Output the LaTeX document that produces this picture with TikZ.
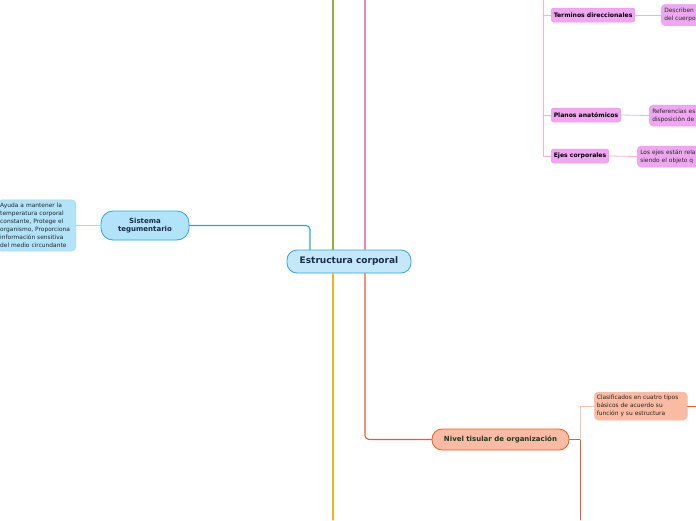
\documentclass[tikz,border=0pt]{standalone}
\usepackage{fontspec}
\setmainfont{DejaVu Sans}
\usepackage{xcolor}
\definecolor{mmblue}{HTML}{2BA6DF}
\definecolor{mmbluefill}{HTML}{C4E8FA}
\definecolor{mmbluenote}{HTML}{B3E3F9}
\definecolor{mmbluelight}{HTML}{9FD8F3}
\definecolor{mmnavy}{HTML}{1B2B48}
\definecolor{mmgreen}{HTML}{8CB43A}
\definecolor{mmpink}{HTML}{F283B6}
\definecolor{mmpinklight}{HTML}{F5B3D1}
\definecolor{mmviolet}{HTML}{EFA7F1}
\definecolor{mmvioletdraw}{HTML}{E79BEA}
\definecolor{mmyellow}{HTML}{F4B223}
\definecolor{mmred}{HTML}{F05A28}
\definecolor{mmsalmon}{HTML}{F9BBA3}
\definecolor{mmsalmonlight}{HTML}{F8C2AE}
\definecolor{mmdkgreen}{HTML}{1C3A26}
\usepackage{tikz}
\usetikzlibrary{positioning}
\tikzset{
  every picture/.style={line cap=round, line join=round},
  rootnode/.style={draw=mmblue, fill=mmbluefill, line width=0.8pt, rounded corners=10pt,
    font=\bfseries\fontsize{9}{10}\selectfont, text=mmnavy, minimum width=124pt, minimum height=23pt},
  topic/.style={line width=0.8pt, rounded corners=12pt, font=\bfseries\fontsize{7}{8.6}\selectfont,
    align=center, inner sep=2pt},
  subtopic/.style={fill=mmviolet, draw=mmvioletdraw, line width=0.5pt, rounded corners=2.5pt,
    font=\bfseries\fontsize{6.1}{7}\selectfont, text=black, minimum height=14pt, inner sep=2.5pt},
  note/.style={line width=0.5pt, rounded corners=4pt, font=\fontsize{5.9}{8.1}\selectfont,
    align=left, inner sep=4pt, text=black!85},
  branch/.style={line width=1.1pt, rounded corners=4pt},
  twig/.style={line width=0.8pt},
}

\begin{document}
\begin{tikzpicture}[x=1pt, y=-1pt]
\useasboundingbox (0,0) rectangle (696,520);

% ------------------------------------------------------------------ centre
\node[rootnode] (root) at (349,261.5) {Estructura corporal};

% main branches leaving the page
\coordinate (greentop) at (333,0);
\coordinate (pinktop) at (365,0);
\coordinate (yellowbot) at (333,520);
\draw[branch, mmgreen] (greentop) -- (greentop |- root.north);
\draw[branch, mmpink] (pinktop) -- (pinktop |- root.north);
\draw[branch, mmyellow] (yellowbot |- root.south) -- (yellowbot);

% ------------------------------------------------------------------ Sistema tegumentario
\node[topic, draw=mmblue, fill=mmbluenote, text=mmnavy, minimum width=88pt, minimum height=29pt]
  (sistema) at (145,225.5) {Sistema\\tegumentario};
\node[note, draw=mmbluelight, fill=mmbluenote, anchor=east, text width=72.5pt, minimum height=51pt,
  inner sep=3pt] (sistemanote) at (76,225.5)
  {Ayuda a mantener la\\temperatura corporal\\constante, Protege el\\organismo, Proporciona\\información sensitiva\\del medio circundante};
\draw[branch, mmblue] ([xshift=-39pt]root.north) |- (sistema.east);
\draw[twig, mmbluelight] (sistema.west) -- (sistemanote.east);

% ------------------------------------------------------------------ pink subtopics
\node[subtopic, anchor=west] (terminos) at (551,15) {Terminos direccionales};
\node[subtopic, anchor=west] (planos) at (551,115) {Planos anatómicos};
\node[subtopic, anchor=west] (ejes) at (551,156) {Ejes corporales};
\coordinate (pinkspine) at (543,0);
\draw[twig, mmpinklight] (pinkspine) -- (pinkspine |- ejes.west) -- (ejes.west);
\draw[twig, mmpinklight] (pinkspine |- terminos.west) -- (terminos.west);
\draw[twig, mmpinklight] (pinkspine |- planos.west) -- (planos.west);

\node[note, fill=mmviolet, draw=mmvioletdraw, anchor=west, text width=70pt, minimum height=21pt,
  inner sep=3pt] (terminosnote) at (661,15) {Describen\\del cuerpo};
\node[note, fill=mmviolet, draw=mmvioletdraw, anchor=west, text width=70pt, minimum height=21pt,
  inner sep=3pt] (planosnote) at (649,115.5) {Referencias es\\disposición de};
\node[note, fill=mmviolet, draw=mmvioletdraw, anchor=west, text width=80pt, minimum height=21pt,
  inner sep=3pt] (ejesnote) at (637,156.5) {Los ejes están rela\\siendo el objeto q};
\draw[twig, mmpinklight] (terminos.east) -- (terminosnote.west);
\draw[twig, mmpinklight] (planos.east) -- (planosnote.west);
\draw[twig, mmpinklight] (ejes.east) -- (ejesnote.west);

% ------------------------------------------------------------------ Nivel tisular
\node[topic, draw=mmred, fill=mmsalmon, text=mmdkgreen, rounded corners=10pt,
  minimum width=137pt, minimum height=21pt] (tisular) at (500.5,439.5) {Nivel tisular de organización};
\draw[branch, mmred] ([xshift=16pt]root.south) |- (tisular.west);

\node[note, fill=mmsalmon, draw=mmsalmonlight, anchor=west, text width=88pt, minimum height=28pt,
  inner sep=2.5pt] (tisularnote) at (594,406)
  {Clasificados en cuatro tipos\\básicos de acuerdo su\\función y su estructura};
\coordinate (tisularspine) at (580,520);
\coordinate (tisularout) at (696,406);
\draw[twig, mmred] (tisular.east) -| (tisularspine);
\draw[twig, mmsalmonlight] (tisularspine |- tisular.east) |- (tisularnote.west);
\draw[twig, mmred] (tisularnote.east) -- (tisularout);
\end{tikzpicture}
\end{document}
